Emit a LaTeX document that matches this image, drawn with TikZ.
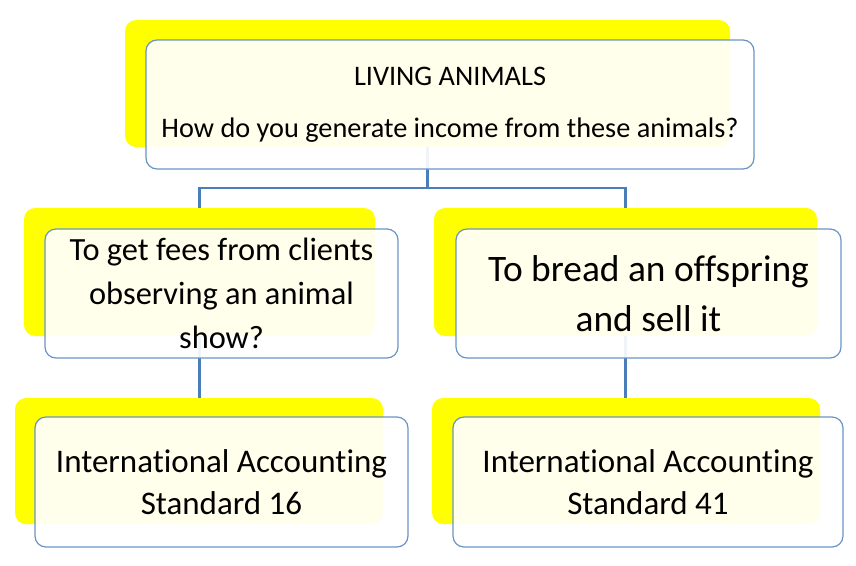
\documentclass[tikz,border=0pt]{standalone}
\usepackage{fontspec}
\setmainfont{Carlito}[Ligatures=NoCommon]
\definecolor{boxblue}{RGB}{106,148,198}
\definecolor{linkblue}{RGB}{74,126,187}
\definecolor{shade}{RGB}{255,255,0}
\begin{document}
\begin{tikzpicture}[x=1pt,y=-1pt,
  shadowbox/.style={fill=shade,rounded corners=11pt,inner sep=0pt},
  whitebox/.style={draw=boxblue,line width=1.2pt,fill=white,fill opacity=0.92,text opacity=1,rounded corners=11pt,inner sep=0pt,align=center},
  conn/.style={draw=linkblue,line width=2.2pt}]
\useasboundingbox[fill=white] (0,0) rectangle (856,565);
% yellow shadows
\node[shadowbox,minimum width=605pt,minimum height=127pt] (ytop) at (427.5,83.5) {};
\node[shadowbox,minimum width=351pt,minimum height=128pt] (yleft) at (199.5,272) {};
\node[shadowbox,minimum width=383pt,minimum height=128pt] (yright) at (625.5,272) {};
\node[shadowbox,minimum width=368pt,minimum height=126pt] (ybl) at (199,461) {};
\node[shadowbox,minimum width=388pt,minimum height=126pt] (ybr) at (626,461) {};
% connectors
\coordinate (j) at ([yshift=-41pt]ytop.south);
\draw[conn] (ytop.south) -- (j) -| (yleft.north);
\draw[conn] (j) -| (yright.north);
\draw[conn] (yleft.south) -- (yleft.south |- ybl.north);
\draw[conn] (yright.south) -- (yright.south |- ybr.north);
% white boxes
\node[whitebox,minimum width=608pt,minimum height=129pt,font=\fontsize{28.3}{52}\selectfont] (top) at (450,104.5)
  {LIVING ANIMALS\\How do you generate income from these animals?};
\node[whitebox,minimum width=353pt,minimum height=129pt,font=\fontsize{32.4}{44}\selectfont] (left) at (221.5,293.5)
  {To get fees from clients\\observing an animal\\show?};
\node[whitebox,minimum width=385pt,minimum height=129pt,font=\fontsize{37.4}{50}\selectfont] (right) at (648.5,293.5)
  {To bread an offspring\\and sell it};
\node[whitebox,minimum width=373pt,minimum height=130pt,font=\fontsize{33}{42}\selectfont] (bl) at (221.5,482)
  {International Accounting\\Standard 16};
\node[whitebox,minimum width=390pt,minimum height=130pt,font=\fontsize{33}{42}\selectfont] (br) at (648,482)
  {International Accounting\\Standard 41};
\end{tikzpicture}
\end{document}
